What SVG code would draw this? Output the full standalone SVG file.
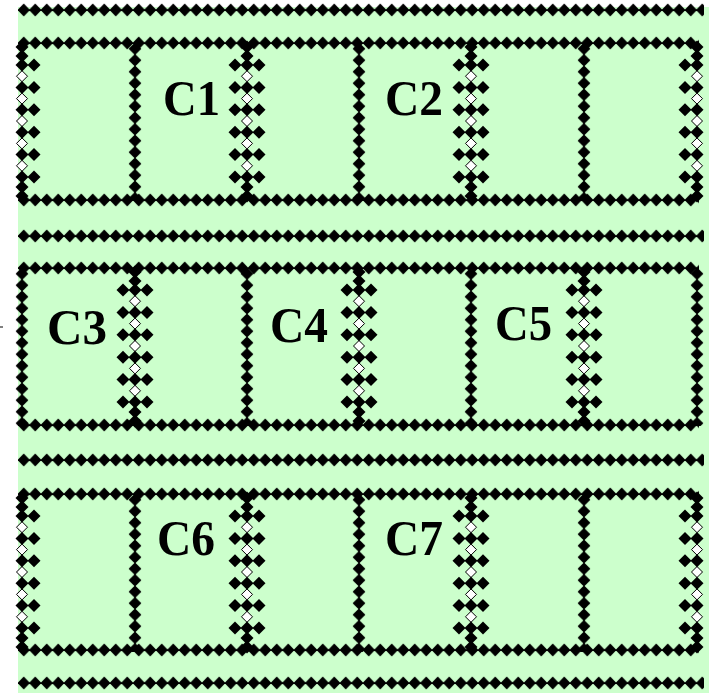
<svg xmlns="http://www.w3.org/2000/svg" xmlns:xlink="http://www.w3.org/1999/xlink" width="709" height="693" viewBox="0 0 709 693">
<style>
.lbl{font-family:"Liberation Serif","Times New Roman",serif;font-weight:bold;font-size:50px;fill:#000}
.wd{fill:#fff;stroke:#000;stroke-width:1}
.bd{fill:#000}
.ln{stroke:#000;stroke-width:1.5}
</style>
<defs>
<pattern id="hp" patternUnits="userSpaceOnUse" x="0" y="-7" width="11.5" height="14">
<polygon points="-0.6,7 5.75,0.6 12.1,7 5.75,13.4" fill="#000"/>
</pattern>
<pattern id="vp" patternUnits="userSpaceOnUse" x="-7" y="0" width="14" height="11.5">
<polygon points="7,-0.6 13.4,5.75 7,12.1 0.6,5.75" fill="#000"/>
</pattern>
<rect id="hbox" x="0" y="-7" width="681" height="14" fill="url(#hp)"/>
<rect id="hlone" x="0" y="-7" width="686" height="14" fill="url(#hp)"/>
<rect id="vplain" x="-7" y="0" width="14" height="158" fill="url(#vp)"/>
<polygon id="d" points="0,-6.5 6.5,0 0,6.5 -6.5,0"/>
<polygon id="dw" points="0,-5.5 5.5,0 0,5.5 -5.5,0"/>
<g id="spcore">
<line class="ln" x1="0" y1="0" x2="0" y2="157"/>
<use xlink:href="#d" class="bd" y="4"/>
<use xlink:href="#d" class="bd" y="13"/>
<use xlink:href="#d" class="bd" y="22"/>
<use xlink:href="#d" class="bd" y="44.4"/>
<use xlink:href="#d" class="bd" y="66.8"/>
<use xlink:href="#d" class="bd" y="89.2"/>
<use xlink:href="#d" class="bd" y="111.6"/>
<use xlink:href="#d" class="bd" y="134"/>
<use xlink:href="#d" class="bd" y="144"/>
<use xlink:href="#d" class="bd" y="153"/>
<use xlink:href="#dw" class="wd" y="33.2"/>
<use xlink:href="#dw" class="wd" y="55.6"/>
<use xlink:href="#dw" class="wd" y="78"/>
<use xlink:href="#dw" class="wd" y="100.4"/>
<use xlink:href="#dw" class="wd" y="122.8"/>
</g>
<g id="spL" class="bd">
<use xlink:href="#d" x="-12" y="22"/>
<use xlink:href="#d" x="-12" y="44.4"/>
<use xlink:href="#d" x="-12" y="66.8"/>
<use xlink:href="#d" x="-12" y="89.2"/>
<use xlink:href="#d" x="-12" y="111.6"/>
<use xlink:href="#d" x="-12" y="134"/>
</g>
<g id="spR" class="bd">
<use xlink:href="#d" x="12" y="22"/>
<use xlink:href="#d" x="12" y="44.4"/>
<use xlink:href="#d" x="12" y="66.8"/>
<use xlink:href="#d" x="12" y="89.2"/>
<use xlink:href="#d" x="12" y="111.6"/>
<use xlink:href="#d" x="12" y="134"/>
</g>
<g id="sp"><use xlink:href="#spL"/><use xlink:href="#spR"/><use xlink:href="#spcore"/></g>
<g id="spEdgeL"><use xlink:href="#spR"/><use xlink:href="#spcore"/></g>
<g id="spEdgeR"><use xlink:href="#spL"/><use xlink:href="#spcore"/></g>
</defs>

<rect id="background" x="18" y="7" width="691" height="686" fill="#ccffcc"/>
<line x1="0" y1="327" x2="3" y2="327" stroke="#000" stroke-width="1"/>

<g id="separators">
<use xlink:href="#hlone" x="18" y="10"/>
<use xlink:href="#hlone" x="18" y="236"/>
<use xlink:href="#hlone" x="18" y="460"/>
<use xlink:href="#hlone" x="18" y="683"/>
</g>

<g id="row1">
<use xlink:href="#hbox" x="18" y="43"/>
<use xlink:href="#hbox" x="18" y="200"/>
<use xlink:href="#spEdgeL" x="22" y="43"/>
<use xlink:href="#vplain" x="135" y="43"/>
<use xlink:href="#sp" x="247" y="43"/>
<use xlink:href="#vplain" x="359" y="43"/>
<use xlink:href="#sp" x="471" y="43"/>
<use xlink:href="#vplain" x="584" y="43"/>
<use xlink:href="#spEdgeR" x="697" y="43"/>
</g>

<g id="row2">
<use xlink:href="#hbox" x="18" y="268"/>
<use xlink:href="#hbox" x="18" y="425"/>
<use xlink:href="#vplain" x="22" y="268"/>
<use xlink:href="#sp" x="135" y="268"/>
<use xlink:href="#vplain" x="247" y="268"/>
<use xlink:href="#sp" x="359" y="268"/>
<use xlink:href="#vplain" x="471" y="268"/>
<use xlink:href="#sp" x="584" y="268"/>
<use xlink:href="#vplain" x="697" y="268"/>
</g>

<g id="row3">
<use xlink:href="#hbox" x="18" y="494"/>
<use xlink:href="#hbox" x="18" y="650"/>
<use xlink:href="#spEdgeL" x="22" y="494"/>
<use xlink:href="#vplain" x="135" y="494"/>
<use xlink:href="#sp" x="247" y="494"/>
<use xlink:href="#vplain" x="359" y="494"/>
<use xlink:href="#sp" x="471" y="494"/>
<use xlink:href="#vplain" x="584" y="494"/>
<use xlink:href="#spEdgeR" x="697" y="494"/>
</g>

<g id="labels">
<text id="C1" class="lbl" x="163" y="115" textLength="57" lengthAdjust="spacingAndGlyphs">C1</text>
<text id="C2" class="lbl" x="385" y="115" textLength="58" lengthAdjust="spacingAndGlyphs">C2</text>
<text id="C3" class="lbl" x="47" y="344" textLength="60" lengthAdjust="spacingAndGlyphs">C3</text>
<text id="C4" class="lbl" x="270" y="342" textLength="58" lengthAdjust="spacingAndGlyphs">C4</text>
<text id="C5" class="lbl" x="495" y="340" textLength="57" lengthAdjust="spacingAndGlyphs">C5</text>
<text id="C6" class="lbl" x="157" y="555" textLength="58" lengthAdjust="spacingAndGlyphs">C6</text>
<text id="C7" class="lbl" x="385" y="555" textLength="58" lengthAdjust="spacingAndGlyphs">C7</text>
</g>
</svg>
